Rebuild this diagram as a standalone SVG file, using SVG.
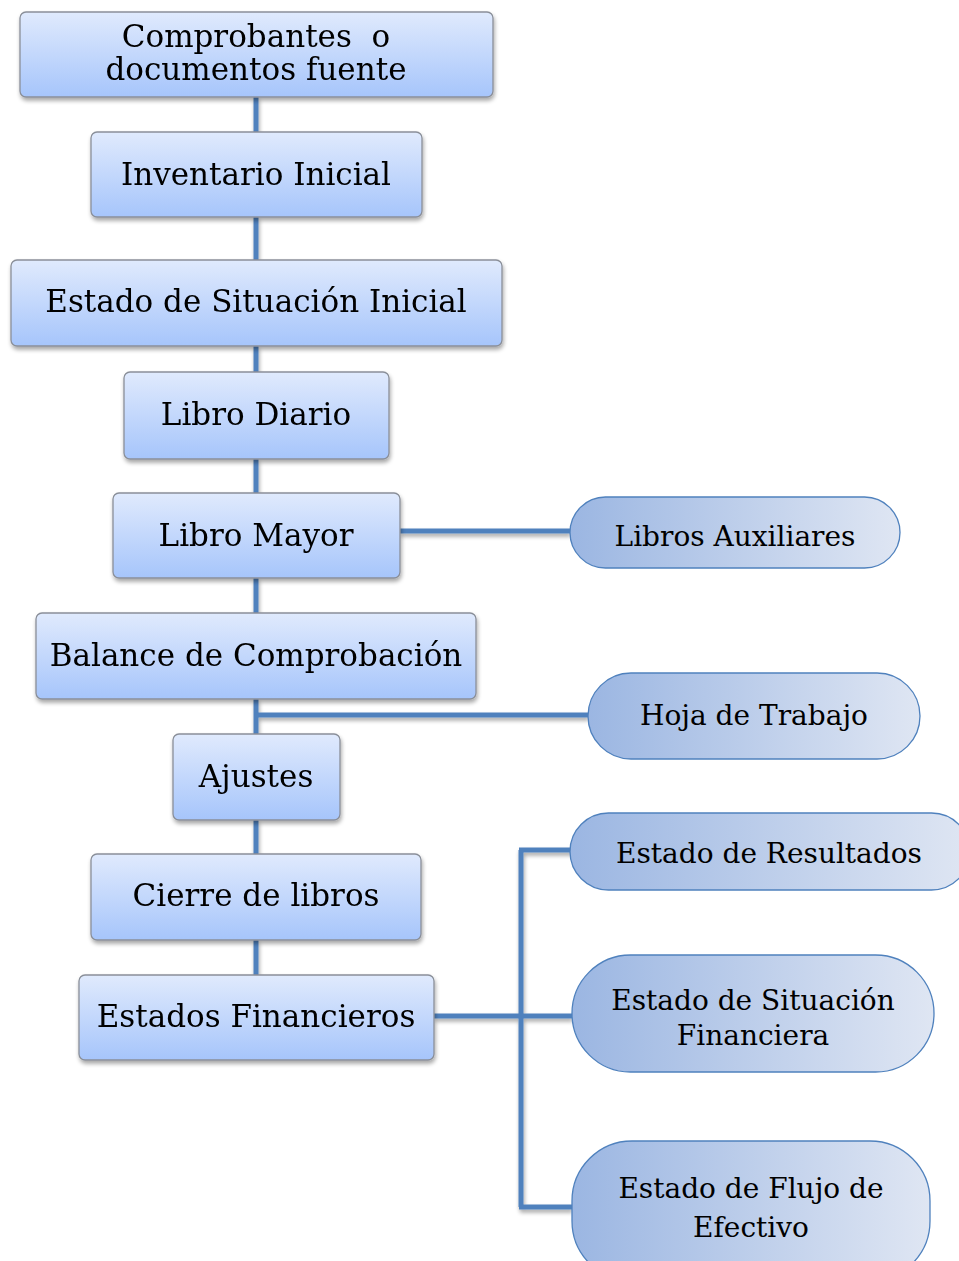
<svg xmlns="http://www.w3.org/2000/svg" width="959" height="1261" viewBox="0 0 959 1261">
<defs>
<linearGradient id="boxg" x1="0" y1="0" x2="0" y2="1">
<stop offset="0" stop-color="#e0eafd"/>
<stop offset="1" stop-color="#a6c5fb"/>
</linearGradient>
<linearGradient id="pillg" x1="0" y1="0" x2="1" y2="0">
<stop offset="0" stop-color="#9bb6e2"/>
<stop offset="1" stop-color="#dfe6f3"/>
</linearGradient>
<filter id="sh" x="-10%" y="-10%" width="130%" height="140%">
<feGaussianBlur in="SourceAlpha" stdDeviation="2"/>
<feOffset dx="1" dy="3" result="b"/>
<feComponentTransfer><feFuncA type="linear" slope="0.35"/></feComponentTransfer>
<feMerge><feMergeNode/><feMergeNode in="SourceGraphic"/></feMerge>
</filter>
</defs>
<style>
.box{fill:url(#boxg);stroke:#8a8f99;stroke-width:1.3}
.pill{fill:url(#pillg);stroke:#4f81bd;stroke-width:1.3}
.t{font-family:"DejaVu Serif","Liberation Serif",serif;font-size:31px;fill:#000;text-anchor:middle;white-space:pre}
.p{font-family:"DejaVu Serif","Liberation Serif",serif;font-size:28px;fill:#000;text-anchor:middle}
.c{fill:none;stroke:#4f81bd;stroke-width:5}
</style>
<rect width="959" height="1261" fill="#fff"/>
<g id="connectors" filter="url(#sh)">
<path class="c" d="M256 97V132M256 217V260M256 346V372M256 459V493M256 578V613M256 699V734M256 820V854M256 940V975"/>
<path class="c" d="M400 531H570"/>
<path class="c" d="M256 715H588"/>
<path class="c" d="M434 1016H572M521 850V1207M519 850H572M519 1207H572"/>
</g>
<g id="n1" filter="url(#sh)"><rect class="box" x="20" y="12" width="473" height="85" rx="6"/><text class="t" x="256" y="47" xml:space="preserve">Comprobantes  o</text><text class="t" x="256" y="80">documentos fuente</text></g>
<g id="n2" filter="url(#sh)"><rect class="box" x="91" y="132" width="331" height="85" rx="6"/><text class="t" x="256" y="185">Inventario Inicial</text></g>
<g id="n3" filter="url(#sh)"><rect class="box" x="11" y="260" width="491" height="86" rx="6"/><text class="t" x="256" y="312">Estado de Situación Inicial</text></g>
<g id="n4" filter="url(#sh)"><rect class="box" x="124" y="372" width="265" height="87" rx="6"/><text class="t" x="256" y="425">Libro Diario</text></g>
<g id="n5" filter="url(#sh)"><rect class="box" x="113" y="493" width="287" height="85" rx="6"/><text class="t" x="256" y="546">Libro Mayor</text></g>
<g id="n6" filter="url(#sh)"><rect class="box" x="36" y="613" width="440" height="86" rx="6"/><text class="t" x="256" y="666">Balance de Comprobación</text></g>
<g id="n7" filter="url(#sh)"><rect class="box" x="173" y="734" width="167" height="86" rx="6"/><text class="t" x="256" y="787">Ajustes</text></g>
<g id="n8" filter="url(#sh)"><rect class="box" x="91" y="854" width="330" height="86" rx="6"/><text class="t" x="256" y="906">Cierre de libros</text></g>
<g id="n9" filter="url(#sh)"><rect class="box" x="79" y="975" width="355" height="85" rx="6"/><text class="t" x="256" y="1027">Estados Financieros</text></g>
<g id="p1"><rect class="pill" x="570" y="497" width="330" height="71" rx="35.5"/><text class="p" x="735" y="546">Libros Auxiliares</text></g>
<g id="p2"><rect class="pill" x="588" y="673" width="332" height="86" rx="43"/><text class="p" x="754" y="725">Hoja de Trabajo</text></g>
<g id="p3"><rect class="pill" x="570" y="813" width="400" height="77" rx="38.5"/><text class="p" x="769" y="863">Estado de Resultados</text></g>
<g id="p4"><rect class="pill" x="572" y="955" width="362" height="117" rx="58.5"/><text class="p" x="753" y="1010">Estado de Situación</text><text class="p" x="753" y="1045">Financiera</text></g>
<g id="p5"><rect class="pill" x="572" y="1141" width="358" height="140" rx="60"/><text class="p" x="751" y="1198">Estado de Flujo de</text><text class="p" x="751" y="1237">Efectivo</text></g>
</svg>
